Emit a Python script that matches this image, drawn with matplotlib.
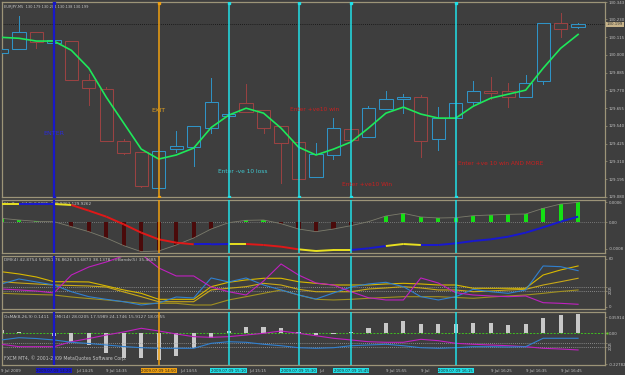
import numpy as np
import matplotlib
matplotlib.use("Agg")
import matplotlib.pyplot as plt
from matplotlib.patches import Rectangle
from matplotlib.collections import LineCollection
from matplotlib.transforms import blended_transform_factory

W, H = 625, 375
BG = "#3e3e3e"
FRAME = "#9c9478"
TXT = "#c4c4c4"
BULL = "#2f93c6"
BEAR = "#9a4242"

# EURJPY M5, 9 Jul 2009, bars 14:05 .. 16:50
opens = [130.011, 130.036, 130.146, 130.075, 130.088, 129.836, 129.778, 129.442, 129.371, 129.138,
         129.390, 129.403, 129.526, 129.604, 129.688, 129.642, 129.539, 129.436, 129.210, 129.352,
         129.520, 129.468, 129.649, 129.713, 129.726, 129.455, 129.591, 129.694, 129.765, 129.765,
         129.726, 129.830, 130.204, 130.179]
highs = [130.049, 130.250, 130.146, 130.095, 130.088, 129.875, 129.791, 129.455, 129.371, 129.378,
         129.507, 129.539, 129.849, 129.630, 129.810, 129.642, 129.539, 129.436, 129.429, 129.591,
         129.520, 129.668, 129.765, 129.746, 129.739, 129.662, 129.688, 129.830, 129.856, 129.817,
         129.868, 130.204, 130.269, 130.204]
lows = [129.998, 130.036, 130.043, 130.075, 129.836, 129.675, 129.442, 129.358, 129.145, 129.138,
        129.371, 129.281, 129.494, 129.591, 129.630, 129.494, 129.171, 129.197, 129.210, 129.326,
        129.449, 129.468, 129.649, 129.623, 129.339, 129.384, 129.591, 129.668, 129.713, 129.662,
        129.726, 129.810, 130.114, 130.172]
closes = [130.036, 130.146, 130.082, 130.095, 129.836, 129.785, 129.442, 129.365, 129.151, 129.378,
          129.410, 129.539, 129.694, 129.617, 129.630, 129.526, 129.429, 129.197, 129.358, 129.526,
          129.449, 129.655, 129.713, 129.726, 129.442, 129.591, 129.688, 129.765, 129.752, 129.726,
          129.817, 130.204, 130.166, 130.199]
ma = [130.114, 130.108, 130.090, 130.090, 130.030, 129.914, 129.726, 129.558, 129.390, 129.326,
      129.352, 129.397, 129.530, 129.610, 129.655, 129.623, 129.526, 129.403, 129.352, 129.390,
      129.436, 129.526, 129.623, 129.662, 129.617, 129.591, 129.591, 129.668, 129.720, 129.746,
      129.772, 129.914, 130.043, 130.133]
bid = 130.199
price_ticks = [129.080, 129.195, 129.310, 129.425, 129.540, 129.655, 129.770, 129.885, 130.000,
               130.115, 130.230, 130.343]

# sub window 1: histogram + trend line
hist1 = [0.00011, 0.00006, 0.00002, 0.00001, -0.00014, -0.00029, -0.00048, -0.00071, -0.00089, -0.00087,
         -0.00069, -0.00048, -0.00021, -0.00002, 0.00005, 0.00006, -0.00005, -0.00021, -0.00029, -0.00021,
         -0.00011, 0.00001, 0.00018, 0.00026, 0.00015, 0.00012, 0.00013, 0.00019, 0.00021, 0.00023,
         0.00024, 0.00041, 0.00054, 0.00059]
trend1 = [0.00054, 0.00054, 0.00054, 0.00054, 0.00051, 0.00034, 0.00016, -0.00007, -0.00032, -0.00052,
          -0.00062, -0.00067, -0.00067, -0.00066, -0.00066, -0.00069, -0.00074, -0.00082, -0.00087, -0.00084,
          -0.00084, -0.00079, -0.00072, -0.00066, -0.00069, -0.00069, -0.00064, -0.00057, -0.00052, -0.00044,
          -0.00032, -0.00016, 0.00001, 0.00016]
# colour of each segment: u = rising (blue), f = flat (yellow), d = falling (red)
trend1_state = "fuufddddddduufdddfffuuffuuuuuuuu" + "u"

# sub window 2: DMI(4) + bands
dmi4_a = [22.5, 21.3, 20.0, 17.5, 40.0, 50.0, 56.3, 64.0, 66.0, 48.8, 38.8, 38.8, 25.0, 19.1, 15.0, 32.5, 53.8,
          40.0, 30.0, 27.5, 19.1, 11.6, 8.8, 8.8, 36.3, 30.0, 17.9, 15.0, 13.8, 12.9, 13.8, 5.4, 4.6, 3.4]
dmi4_b = [28.8, 35.0, 31.3, 27.5, 19.1, 12.9, 9.6, 6.6, 2.5, 5.0, 12.5, 11.3, 36.3, 31.3, 36.3, 27.5, 21.3,
          15.0, 10.0, 17.5, 25.0, 28.8, 30.9, 25.4, 12.9, 8.8, 12.9, 22.1, 19.1, 17.1, 21.3, 51.3, 50.4, 45.4]
band_up = [44.1, 41.3, 37.5, 31.6, 31.6, 31.3, 26.3, 21.3, 17.1, 9.6, 9.6, 9.6, 25.4, 30.9, 33.8, 35.9, 35.9,
           31.6, 29.6, 27.5, 27.5, 27.5, 28.8, 29.6, 28.8, 27.5, 27.5, 23.4, 23.4, 23.4, 23.4, 40.0, 46.3, 51.3]
band_mid = [31.6, 30.0, 28.8, 27.5, 26.9, 26.3, 25.0, 18.8, 12.9, 6.6, 6.6, 6.6, 21.3, 23.4, 25.4, 29.6, 27.5,
            22.1, 19.1, 19.1, 19.1, 22.5, 23.8, 25.4, 23.8, 21.3, 21.3, 19.1, 20.0, 21.3, 22.1, 27.5, 31.6, 35.9]
band_low = [17.1, 16.3, 15.6, 15.0, 12.5, 10.6, 8.8, 6.6, 4.6, 4.6, 4.6, 2.5, 2.5, 8.8, 12.9, 17.1, 21.3,
            15.0, 9.6, 8.8, 9.6, 10.9, 11.9, 12.9, 12.9, 12.9, 11.9, 10.9, 12.5, 13.8, 15.0, 17.1, 19.4, 21.3]

# sub window 3: OsMA + DMI(14)
osma = [0.024, 0.010, 0.002, -0.020, -0.067, -0.087, -0.148, -0.181, -0.185, -0.198, -0.166, -0.111, -0.037,
        0.017, 0.049, 0.049, 0.037, 0.010, -0.013, -0.005, 0.010, 0.041, 0.074, 0.091, 0.067, 0.067, 0.071,
        0.074, 0.074, 0.061, 0.067, 0.115, 0.135, 0.141]
dmi14_a = [23.4, 20.4, 20.4, 20.4, 26.6, 30.6, 35.0, 38.8, 43.4, 40.0, 36.3, 32.9, 32.1, 32.9, 35.0, 37.1, 40.0,
           37.1, 34.1, 30.9, 28.8, 26.6, 25.9, 25.9, 29.6, 27.9, 24.6, 23.4, 22.5, 21.6, 20.4, 18.4, 17.5, 16.3]
dmi14_b = [28.8, 31.6, 30.6, 28.8, 25.9, 24.4, 22.5, 20.6, 19.1, 18.4, 18.4, 18.4, 24.6, 26.6, 25.9, 23.4, 21.6,
           19.1, 18.4, 19.1, 21.6, 22.5, 23.4, 21.6, 19.1, 18.4, 19.1, 20.4, 20.4, 20.0, 20.4, 30.9, 30.9, 30.9]

# vertical line objects
vline_idx = [3, 9, 13, 17, 20, 26]
vline_colors = ["#1818c8", "#f0a010", "#20e0e8", "#20e0e8", "#20e0e8", "#20e0e8"]
vline_widths = [1.6, 1.1, 1.1, 1.1, 1.1, 1.1]
vline_labels = ["2009.07.09 14:20", "2009.07.09 14:50", "2009.07.09 15:10",
                "2009.07.09 15:30", "2009.07.09 15:45", "2009.07.09 16:15"]

# time axis labels (only the parts not covered by the line labels)
time_pos = [0.0, 4.25, 6.0, 10.25, 14.2, 18.2, 22.0, 24.0, 28.0, 30.0, 32.0]
time_labels = ["9 Jul 2009", "Jul 14:25", "9 Jul 14:35", "Jul 14:55", "Jul 15:15", "Jul",
               "9 Jul 15:55", "9 Jul", "9 Jul 16:25", "9 Jul 16:35", "9 Jul 16:45"]

notes = ["ENTER", "EXIT", "Enter -ve 10 loss", "Enter +ve10 win", "Enter +ve10 Win", "Enter +ve 10 win AND MORE"]
note_x = [3.0, 9.0, 12.4, 16.5, 19.5, 26.1]
note_y = [129.494, 129.642, 129.242, 129.649, 129.164, 129.300]
note_colors = ["#2a2ad8", "#e0a020", "#40c8d0", "#c82020", "#c82020", "#c82020"]
note_ha = ["center", "center", "left", "left", "left", "left"]

n = len(opens)
x = np.arange(n)

fig = plt.figure(figsize=(W / 100, H / 100), dpi=100, facecolor=BG)


def style_right(ax):
    ax.yaxis.tick_right()
    ax.yaxis.set_label_position("right")
    ax.tick_params(axis="y", colors=FRAME, labelcolor=TXT, labelsize=2.8, length=1.5, width=0.5, pad=1)


def pane(y0, y1):
    ax = fig.add_axes([2 / W, 1 - y1 / H, (605 - 2) / W, (y1 - y0) / H])
    ax.set_facecolor(BG)
    for s in ax.spines.values():
        s.set_color(FRAME)
        s.set_linewidth(0.9)
    ax.set_xlim(0.03, 34.54)
    ax.tick_params(axis="x", bottom=False, labelbottom=False)
    style_right(ax)
    return ax


ax0 = pane(2, 197)
ax1 = pane(200, 253)
ax2 = pane(256, 309)
ax3 = pane(312, 365)

# main chart
ax0.set_ylim(129.080, 130.343)
ax0.set_yticks(price_ticks)
ax0.set_yticklabels(["%.3f" % v for v in price_ticks])
for i in range(n):
    up = closes[i] >= opens[i]
    col = BULL if up else BEAR
    ax0.plot([i, i], [lows[i], highs[i]], color=col, lw=0.7, zorder=2)
    lo = min(opens[i], closes[i])
    ax0.add_patch(Rectangle((i - 0.38, lo), 0.76, max(abs(closes[i] - opens[i]), 0.0008),
                            facecolor=BG, edgecolor=col, lw=0.75, zorder=3))
ax0.plot(x, ma, color="#1ee85a", lw=1.2, zorder=4)
ax0.axhline(bid, color="#101010", lw=0.6, ls=(0, (1, 1.5)), zorder=1)
ax0.text(1.003, bid, "%.3f" % bid, transform=blended_transform_factory(ax0.transAxes, ax0.transData),
         fontsize=2.8, color="#303030", va="center", ha="left",
         bbox=dict(boxstyle="square,pad=0.15", fc="#c8b48a", ec="none"))
ax0.text(0.003, 0.975, "EURJPY,M5  130.179 130.204 130.138 130.199", transform=ax0.transAxes,
         fontsize=2.6, color=TXT, va="center", ha="left")
for t, tx, ty, c, ha in zip(notes, note_x, note_y, note_colors, note_ha):
    fs = 4.6 if ha == "center" else 4.2
    ax0.text(tx, ty, t, fontsize=fs, color=c, ha=ha, va="center", zorder=6)

# sub window 1
ax1.set_ylim(-0.00093, 0.00066)
ax1.set_yticks([0.0006, 0.0, -0.0008])
ax1.set_yticklabels(["0.0006", "0.00", "-0.0008"])
ax1.axhline(0, color="#8a8a8a", lw=0.6, ls=(0, (1, 1.5)), zorder=1)
hcols = ["#14e014" if v > 0 else "#4a0a0a" for v in hist1]
ax1.bar(x, hist1, width=0.24, color=hcols, zorder=2)
ax1.plot(x, hist1, color="#7c7c6c", lw=0.6, zorder=2)
state_col = {"u": "#1818d0", "f": "#e8e020", "d": "#e01818"}
segs = [[(i, trend1[i]), (i + 1, trend1[i + 1])] for i in range(n - 1)]
ax1.add_collection(LineCollection(segs, colors=[state_col[s] for s in trend1_state[:n - 1]], lw=1.4, zorder=3))
ax1.text(0.003, 0.925, "SlmTrend(4,0) 0.0005  129.9262 129.9262", transform=ax1.transAxes,
         fontsize=3.0, color=TXT, va="center", ha="left", zorder=2)

# sub window 2
ax2.set_ylim(-2.5, 63.75)
ax2.set_yticks([60, 25, 20, 0])
ax2.set_yticklabels(["60", "25", "20", "0"])
for lab in ax2.get_yticklabels()[1:3]:
    lab.set_rotation(90)
for lvl in (25, 20):
    ax2.axhline(lvl, color="#a0a0a0", lw=0.6, ls=(0, (1, 1.5)), zorder=1)
ax2.plot(x, band_low, color="#a09020", lw=0.8)
ax2.plot(x, band_mid, color="#c8a818", lw=0.8)
ax2.plot(x, band_up, color="#d8b800", lw=0.8)
ax2.plot(x, dmi4_b, color="#3080d0", lw=0.8)
ax2.plot(x, dmi4_a, color="#c020c0", lw=0.8)
ax2.text(0.003, 0.925, "DMI(4) 42.8754 5.6051 76.8626 53.6873 38.1378  ->Bands(5) 35.4685",
         transform=ax2.transAxes, fontsize=3.1, color=TXT, va="center", ha="left")

# sub window 3: OsMA on ax3, DMI(14) on a twin scale
ax3b = ax3.twinx()
style_right(ax3)
style_right(ax3b)
ax3.set_ylim(-0.2346, 0.1576)
ax3.set_yticks([0.12, 0.0, -0.2278])
ax3.set_yticklabels(["0.35914", "0.00", "-0.22782"])
ax3b.set_xlim(0.03, 34.54)
ax3b.set_ylim(-2.5, 63.75)
ax3b.set_yticks([25, 20])
ax3b.set_yticklabels(["25", "20"], rotation=90)
for s in ax3b.spines.values():
    s.set_visible(False)
ax3.bar(x, osma, width=0.24, color="#c8c8c8", zorder=2)
ax3.axhline(0, color="#40c020", lw=0.7, ls=(0, (2, 1.5)), zorder=1)
ax3.plot([1.004], [0.0], transform=blended_transform_factory(ax3.transAxes, ax3.transData),
         marker="s", ms=1.6, mfc="#60d020", mec="none", clip_on=False)
for lvl in (25, 20):
    ax3b.axhline(lvl, color="#a0a0a0", lw=0.6, ls=(0, (1, 1.5)), zorder=1)
ax3b.plot(x, dmi14_a, color="#c020c0", lw=0.8)
ax3b.plot(x, dmi14_b, color="#3080d0", lw=0.8)
ax3.text(0.003, 0.906, "OsMA(8,26,9) 0.1411   DMI(14) 28.0205 17.5989 24.1746 15.9127 18.0955",
         transform=ax3.transAxes, fontsize=3.1, color=TXT, va="center", ha="left")
ax3.text(0.003, 0.13, "FXCM MT4, \u00a9 2001-2009 MetaQuotes Software Corp.", transform=ax3.transAxes,
         fontsize=3.3, color=TXT, va="center", ha="left")

# vertical lines through every window
for i, c, lw in zip(vline_idx, vline_colors, vline_widths):
    for ax in (ax0, ax1, ax2, ax3b):
        ax.axvline(i, color=c, lw=lw, zorder=5)
    ax0.plot([i, i], [129.083, 130.338], ls="none", marker="s", ms=1.8, mfc=c, mec=c, zorder=6)

# time axis
tr = ax3.get_xaxis_transform()
for p, t in zip(time_pos, time_labels):
    ax3.text(p, -0.105, t, transform=tr, fontsize=2.8, color=TXT, ha="left", va="center", zorder=5)
for i, c, t in zip(vline_idx, vline_colors, vline_labels):
    ax3.text(i, -0.105, t, transform=tr, fontsize=2.8, color="#202020", ha="center", va="center", zorder=6,
             bbox=dict(boxstyle="square,pad=0.2", fc=c, ec="none"))

fig.savefig("out.png", dpi=100, facecolor=BG)
